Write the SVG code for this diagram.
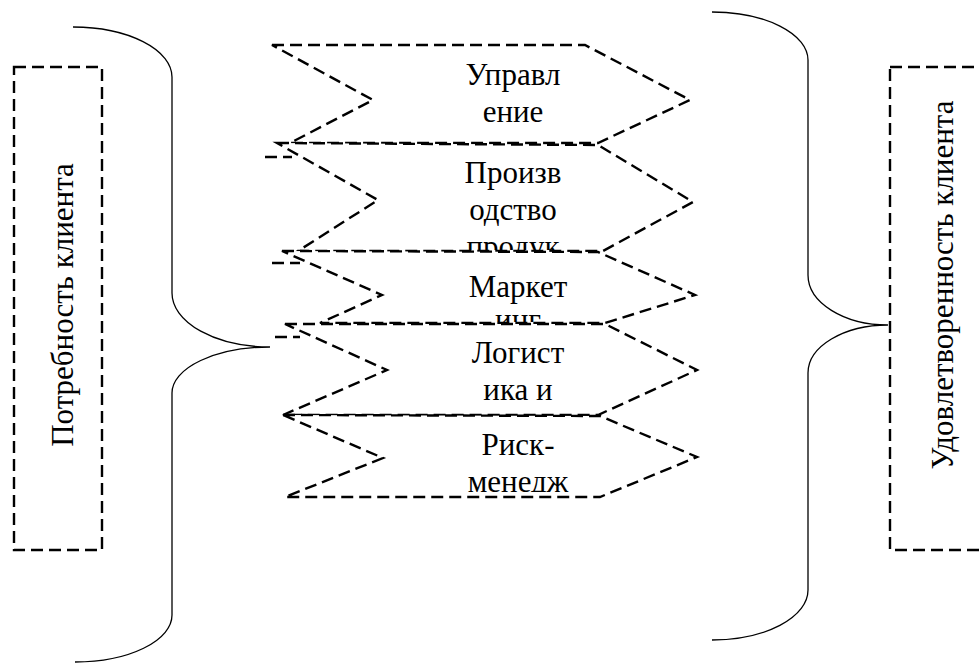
<svg xmlns="http://www.w3.org/2000/svg" width="980" height="664" viewBox="0 0 980 664">
<style>
.dash{fill:none;stroke:#000;stroke-width:2.4;stroke-dasharray:12,6}
.chev{fill:#fff;stroke:#000;stroke-width:2.4;stroke-dasharray:12,6;stroke-linejoin:miter}
.brace{fill:none;stroke:#000;stroke-width:1.3}
.t{font-family:'Times New Roman','Liberation Serif',Tinos,'DejaVu Serif','Noto Serif',serif;font-size:31px;fill:#000;text-anchor:middle}
</style>
<defs>
<clipPath id="k1"><rect x="280" y="46" width="400" height="95"/></clipPath>
<clipPath id="k2"><rect x="280" y="146" width="400" height="104"/></clipPath>
<clipPath id="k3"><rect x="280" y="254" width="400" height="68"/></clipPath>
<clipPath id="k4"><rect x="280" y="326" width="400" height="88"/></clipPath>
<clipPath id="k5"><rect x="280" y="418" width="400" height="74"/></clipPath>
</defs>
<rect width="980" height="664" fill="#fff"/>
<g id="connectors">
<path class="brace" d="M73,27 A99,50 0 0 1 172,77 L172,293 A98,54 0 0 0 270,347 A98,46 0 0 0 172,393 L172,615 A97,47 0 0 1 75,662"/>
<path class="brace" d="M712,12 A96,48 0 0 1 808,60 L808,275 A80,50 0 0 0 888,325 A80,48 0 0 0 808,373 L808,590 A96,50 0 0 1 712,640"/>
</g>
<g id="need">
<rect class="dash" x="14" y="67" width="88" height="483"/>
<text class="t" transform="translate(73,305) rotate(-90)">Потребность клиента</text>
</g>
<g id="satisfaction">
<rect class="dash" x="890" y="67" width="100" height="483"/>
<text class="t" transform="translate(953,285) rotate(-90)">Удовлетворенность клиента</text>
</g>
<g id="business">
<polygon class="chev" points="272,45 585,45 690,100 598,143 290,143 373,100"/>
<g clip-path="url(#k1)"><text class="t" x="513" y="85">Управл</text><text class="t" x="513" y="122">ение</text></g>
</g>
<g id="production">
<polygon class="chev" points="277,143 598,145 693,202 603,251 298,251 378,200"/>
<line class="dash" x1="265" y1="157" x2="292" y2="157"/>
<g clip-path="url(#k2)"><text class="t" x="513" y="183">Произв</text><text class="t" x="513" y="220">одство</text><text class="t" x="513" y="257">продук</text></g>
</g>
<g id="marketing">
<polygon class="chev" points="282,251 598,252 695,295 605,323 320,323 382,295"/>
<line class="dash" x1="272" y1="263" x2="300" y2="263"/>
<g clip-path="url(#k3)"><text class="t" x="518" y="297">Маркет</text><text class="t" x="518" y="330">инг</text></g>
</g>
<g id="logistics">
<polygon class="chev" points="285,324 605,324 697,370 598,415 283,415 387,370"/>
<line class="dash" x1="275" y1="337" x2="300" y2="337"/>
<g clip-path="url(#k4)"><text class="t" x="518" y="363">Логист</text><text class="t" x="518" y="400">ика и</text></g>
</g>
<g id="risk">
<polygon class="chev" points="283,415 600,416 697,457 600,497 285,497 383,458"/>
<g clip-path="url(#k5)"><text class="t" x="518" y="455">Риск-</text><text class="t" x="518" y="492">менедж</text></g>
</g>
</svg>
